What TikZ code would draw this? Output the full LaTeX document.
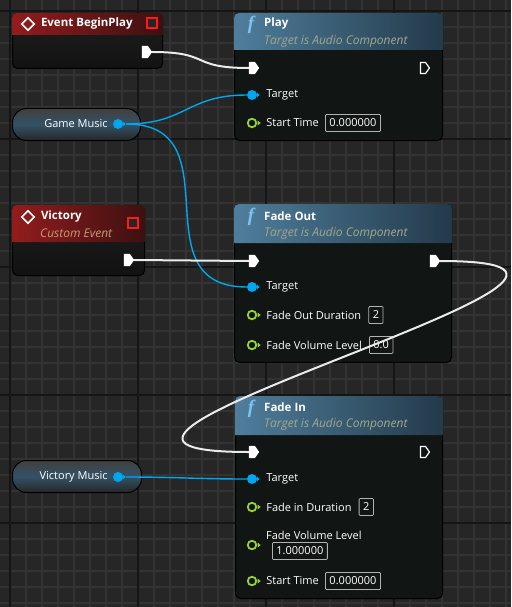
\documentclass[tikz,border=0pt]{standalone}
\usepackage{fontspec}
\setmainfont{Open Sans}
\newfontfamily\iconfont{Liberation Serif}
\usetikzlibrary{positioning,shapes.symbols,shapes.geometric,calc}

\definecolor{gridbg}{HTML}{262626}
\definecolor{gridline}{HTML}{333333}
\definecolor{gridbold}{HTML}{151515}
\definecolor{nodebody}{HTML}{111513}
\definecolor{fnlight}{HTML}{4F7E9C}
\definecolor{fndark}{HTML}{233A4A}
\definecolor{evred}{HTML}{931C1C}
\definecolor{evdark}{HTML}{3C1111}
\definecolor{objblue}{HTML}{00A6EE}
\definecolor{floatgreen}{HTML}{97D23B}
\definecolor{subgray}{HTML}{A4A88C}
\definecolor{evsub}{HTML}{C8977B}
\definecolor{fblue}{HTML}{7CC4F0}

\tikzset{
  minorgrid/.style={draw=gridline, line width=1.6pt},
  majorgrid/.style={draw=gridbold, line width=2pt},
  fnbody/.style={rectangle, anchor=north west, draw=black, line width=1pt, rounded corners=5pt, fill=nodebody, inner sep=0pt},
  evbody/.style={fnbody, top color=black!88, bottom color=black!93},
  varpill/.style={rectangle, anchor=north west, draw=black, line width=1pt, rounded corners=14pt, inner sep=0pt,
    top color=black!75, bottom color=black!85, middle color=fnlight!65!black},
  evicon/.style={diamond, draw=white, line width=1.6pt, minimum size=13pt, inner sep=0pt},
  evdelegate/.style={rectangle, draw=red!90!white, fill=black!85, line width=1.4pt, minimum size=10pt, inner sep=0pt},
  evtitle/.style={inner sep=0pt, anchor=west, text=white, font=\bfseries\fontsize{11.5}{13}\selectfont},
  evsubtitle/.style={inner sep=0pt, anchor=west, text=evsub, font=\itshape\fontsize{12}{13}\selectfont},
  fnicon/.style={inner sep=0pt, text=fblue, font=\iconfont\bfseries\itshape\fontsize{19}{19}\selectfont},
  fntitle/.style={evtitle},
  fnsub/.style={evsubtitle, text=subgray},
  execpin/.style={signal, signal to=east, signal pointer angle=110, draw=white, fill=white, line width=1.2pt,
    minimum width=9pt, minimum height=11pt, inner sep=0pt},
  execopen/.style={execpin, fill=nodebody},
  objpin/.style={circle, fill=objblue, minimum size=10pt, inner sep=0pt},
  floatpin/.style={circle, draw=floatgreen, line width=1.8pt, minimum size=8.5pt, inner sep=0pt},
  pinlbl/.style={inner sep=0pt, text=white, font=\fontsize{11}{12}\selectfont},
  valbox/.style={draw=white!70!black, line width=0.8pt, rounded corners=1pt, text=white, inner xsep=4pt,
    minimum height=17pt, font=\fontsize{11}{12}\selectfont},
  execwire/.style={draw=white!92!black, line width=2pt},
  objwire/.style={draw=objblue, line width=1.4pt}
}

\begin{document}
\begin{tikzpicture}[x=1pt, y=-1pt]
  \useasboundingbox (0,0) rectangle (511,607);

  % Helper macros: coloured title bar across the top of a node
  \def\fnhead#1#2{%
    % #1 = node name, #2 = depth of the title bar
    \shade[left color=fnlight, right color=fndark, rounded corners=5pt]
      ([yshift=-#2]#1.north west) -- (#1.north west) -- (#1.north east) -- ([yshift=-#2]#1.north east);
  }
  \def\evhead#1#2{%
    \shade[left color=evred, right color=evdark, rounded corners=5pt]
      ([yshift=-#2]#1.north west) -- (#1.north west) -- (#1.north east) -- ([yshift=-#2]#1.north east);
  }

  % Graph background with the editor grid
  \fill[gridbg] (0,0) rectangle (511,607);
  \foreach \x in {10,26,...,506} \draw[minorgrid] (\x,0) -- (\x,607);
  \foreach \y in {11,27,...,603} \draw[minorgrid] (0,\y) -- (511,\y);
  \foreach \x in {10,138,266,394} \draw[majorgrid] (\x,0) -- (\x,607);
  \foreach \y in {11,139,267,395,523} \draw[majorgrid] (0,\y) -- (511,\y);

  % Event BeginPlay
  \node[evbody, minimum width=150pt, minimum height=55pt] (beginPlay) at (12,13) {};
  \evhead{beginPlay}{22pt}
  \node[evicon] (bpIcon) at (28,24) {};
  \node[evtitle, right=5.5pt of bpIcon] {Event BeginPlay};
  \node[evdelegate] (bpDel) at (152,23) {};
  \node[execpin] (bpOut) at (145,52) {};

  % Game Music variable
  \node[varpill, minimum width=128pt, minimum height=32pt] (gameMusic) at (12,108) {};
  \node[objpin] (gmOut) at (118,124) {};
  \node[pinlbl, left=5pt of gmOut] {Game Music};

  % Play
  \node[fnbody, minimum width=208pt, minimum height=127pt] (play) at (234,13) {};
  \fnhead{play}{37pt}
  \node[fnicon] (playF) at (251,25) {f};
  \node[fntitle] at (264,24) {Play};
  \node[fnsub] at (264,41) {Target is Audio Component};
  \node[execpin] (playIn) at (252,68) {};
  \node[execopen] (playOut) at (423,68) {};
  \node[objpin] (playTgt) at (252,95) {};
  \node[pinlbl, right=9pt of playTgt] {Target};
  \node[floatpin] (playSt) at (252,123) {};
  \node[pinlbl, right=9pt of playSt] (playStLbl) {Start Time};
  \node[valbox, right=6pt of playStLbl] {0.000000};

  % Victory custom event
  \node[evbody, minimum width=132pt, minimum height=70pt] (victory) at (12,205) {};
  \evhead{victory}{37pt}
  \node[evicon] (vicIcon) at (28,217) {};
  \node[evtitle, right=5.5pt of vicIcon] {Victory};
  \node[evsubtitle] at (40,233) {Custom Event};
  \node[evdelegate] (vicDel) at (133,223) {};
  \node[execpin] (vicOut) at (127,260) {};

  % Fade Out
  \node[fnbody, minimum width=217pt, minimum height=158pt] (fadeOut) at (234,204) {};
  \fnhead{fadeOut}{39pt}
  \node[fnicon] (foF) at (251,217) {f};
  \node[fntitle] at (264,216) {Fade Out};
  \node[fnsub] at (264,233) {Target is Audio Component};
  \node[execpin] (foIn) at (252,261) {};
  \node[execpin] (foOut) at (433,261) {};
  \node[objpin] (foTgt) at (252,287) {};
  \node[pinlbl, right=9pt of foTgt] {Target};
  \node[floatpin] (foDur) at (252,315) {};
  \node[pinlbl, right=9pt of foDur] (foDurLbl) {Fade Out Duration};
  \node[valbox, right=7pt of foDurLbl] {2};
  \node[floatpin] (foVol) at (252,345) {};
  \node[pinlbl, right=9pt of foVol] (foVolLbl) {Fade Volume Level};
  \node[valbox, right=7pt of foVolLbl] {0.0};

  % Fade In
  \node[fnbody, minimum width=207pt, minimum height=202pt] (fadeIn) at (235,396) {};
  \fnhead{fadeIn}{39pt}
  \node[fnicon] (fiF) at (251,409) {f};
  \node[fntitle] at (264,407) {Fade In};
  \node[fnsub] at (264,424) {Target is Audio Component};
  \node[execpin] (fiIn) at (252,452) {};
  \node[execopen] (fiOut) at (423,452) {};
  \node[objpin] (fiTgt) at (252,479) {};
  \node[pinlbl, right=9pt of fiTgt] {Target};
  \node[floatpin] (fiDur) at (252,507) {};
  \node[pinlbl, right=9pt of fiDur] (fiDurLbl) {Fade in Duration};
  \node[valbox, right=7pt of fiDurLbl] {2};
  \node[floatpin] (fiVol) at (252,545) {};
  \node[pinlbl, anchor=west] (fiVolLbl) at (266,535) {Fade Volume Level};
  \node[valbox, anchor=west] (fiVolVal) at (272,551) {1.000000};
  \node[floatpin] (fiSt) at (252,581) {};
  \node[pinlbl, right=9pt of fiSt] (fiStLbl) {Start Time};
  \node[valbox, right=6pt of fiStLbl] {0.000000};

  % Victory Music variable
  \node[varpill, minimum width=129pt, minimum height=32pt] (victoryMusic) at (12,460) {};
  \node[objpin] (vmOut) at (118,477) {};
  \node[pinlbl, left=5pt of vmOut] {Victory Music};

  % small arrow tips beside the data pins
  \foreach \p in {gmOut,playTgt,foTgt,fiTgt,vmOut}
    \fill[objblue] ([xshift=-0.5pt]\p.east) ++(0,-2.5) -- ++(3,2.5) -- ++(-3,2.5) -- cycle;
  \foreach \p in {playSt,foDur,foVol,fiDur,fiVol,fiSt}
    \fill[floatgreen] ([xshift=0.5pt]\p.east) ++(0,-2.5) -- ++(3,2.5) -- ++(-3,2.5) -- cycle;

  % Wires
  \draw[execwire] (bpOut.east) .. controls +(60,0) and +(-60,0) .. (playIn.west);
  \draw[objwire] ([xshift=3pt]gmOut.east) .. controls +(60,0) and +(-60,0) .. (playTgt.west);
  \draw[objwire] ([xshift=3pt]gmOut.east) .. controls +(110,0) and +(-110,0) .. (foTgt.west);
  \draw[execwire] (vicOut.east) -- (foIn.west);
  \draw[execwire] (foOut.east) .. controls +(290,0) and +(-290,0) .. (fiIn.west);
  \draw[objwire] ([xshift=3pt]vmOut.east) .. controls +(50,0) and +(-50,0) .. (fiTgt.west);

\end{tikzpicture}
\end{document}
